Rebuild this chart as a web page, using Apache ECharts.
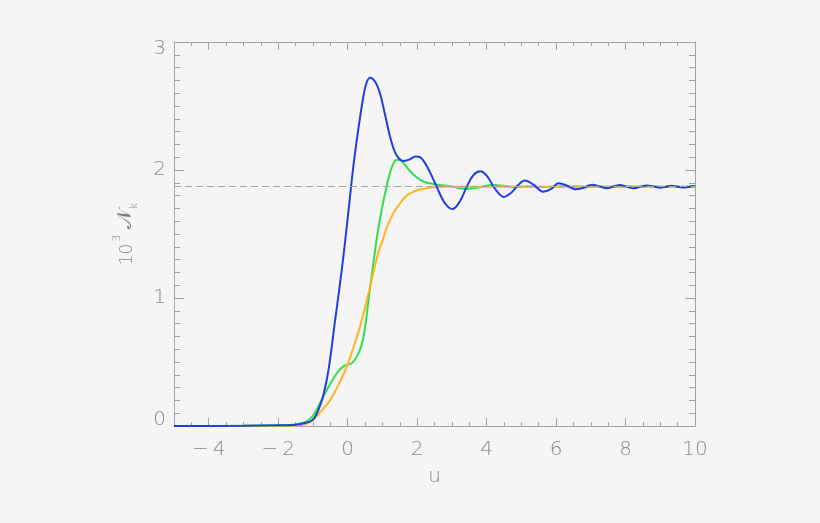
<!DOCTYPE html>
<html><head><meta charset="utf-8">
<script src="https://cdn.jsdelivr.net/npm/echarts@6/dist/echarts.min.js"></script>
<style>html,body{margin:0;padding:0;background:#f5f5f5}#c{width:820px;height:523px}</style>
</head><body><div id="c"></div><script>
// ---- data ----
const xMajorTicks = [-4, -2, 0, 2, 4, 6, 8, 10];
const yMajorTicks = [0, 1, 2, 3];
const refLevel = 1.87;

const blueX = [-5, -3, -2, -1.5, -1.2, -1.0, -0.85, -0.7, -0.55, -0.36, -0.17, 0, 0.07, 0.16, 0.26, 0.356, 0.45, 0.53, 0.64, 0.79, 0.93, 1.07, 1.22, 1.36, 1.48, 1.6, 1.8, 1.95, 2.08, 2.3, 2.56, 2.8, 3.02, 3.22, 3.43, 3.62, 3.82, 4.02, 4.25, 4.5, 4.7, 4.9, 5.1, 5.35, 5.63, 5.85, 6.07, 6.3, 6.55, 6.8, 7.03, 7.25, 7.46, 7.65, 7.84, 8.03, 8.23, 8.42, 8.61, 8.8, 9.0, 9.17, 9.33, 9.5, 9.67, 9.85, 10];
const blueY = [0, 0.002, 0.006, 0.01, 0.025, 0.05, 0.12, 0.24, 0.44, 0.83, 1.22, 1.62, 1.8, 2.02, 2.23, 2.41, 2.57, 2.67, 2.72, 2.69, 2.6, 2.44, 2.26, 2.14, 2.09, 2.07, 2.085, 2.105, 2.1, 2.02, 1.87, 1.74, 1.695, 1.75, 1.87, 1.96, 1.99, 1.95, 1.85, 1.79, 1.82, 1.88, 1.918, 1.885, 1.83, 1.85, 1.896, 1.88, 1.85, 1.862, 1.885, 1.872, 1.857, 1.87, 1.883, 1.87, 1.857, 1.868, 1.879, 1.872, 1.862, 1.87, 1.877, 1.87, 1.863, 1.87, 1.876];

const greenX = [-5, -3, -2, -1.5, -1.2, -1.0, -0.85, -0.7, -0.5, -0.32, -0.15, -0.03, 0.117, 0.26, 0.4, 0.5, 0.59, 0.69, 0.84, 0.98, 1.12, 1.27, 1.41, 1.55, 1.8, 2.0, 2.18, 2.37, 2.56, 2.85, 3.1, 3.43, 3.8, 4.15, 4.5, 4.76, 5.2, 5.6, 6.2, 7, 8, 9, 10];
const greenY = [0, 0.001, 0.004, 0.012, 0.034, 0.08, 0.15, 0.23, 0.33, 0.41, 0.46, 0.477, 0.49, 0.54, 0.63, 0.77, 0.96, 1.17, 1.47, 1.69, 1.87, 2.02, 2.08, 2.07, 1.99, 1.94, 1.91, 1.896, 1.885, 1.878, 1.865, 1.852, 1.865, 1.883, 1.876, 1.865, 1.872, 1.868, 1.872, 1.869, 1.871, 1.87, 1.87];

const orangeX = [-5, -2, -1.5, -1.2, -1.0, -0.75, -0.51, -0.25, -0.03, 0.15, 0.36, 0.55, 0.74, 0.9, 1.03, 1.12, 1.31, 1.51, 1.7, 1.89, 2.1, 2.37, 2.8, 3.5, 5, 7, 10];
const orangeY = [0, 0, 0.003, 0.015, 0.045, 0.12, 0.2, 0.33, 0.46, 0.6, 0.78, 0.98, 1.2, 1.37, 1.47, 1.545, 1.66, 1.74, 1.8, 1.83, 1.85, 1.862, 1.869, 1.87, 1.87, 1.87, 1.87];

// ---- styling ----
const AX = '#a4a4a4';
const LBL = '#8a8a8a';
const FONT = 'DejaVu Sans';
const zip = (xs, ys) => xs.map((x, i) => [x, ys[i]]);

function xAx(pos, interval, tickLen, custom, withLabels, withLine) {
  const a = {
    type: 'value', position: pos, min: -5, max: 10, interval: interval,
    gridIndex: 0,
    axisLine: { show: withLine, onZero: false, lineStyle: { color: AX, width: 1 } },
    axisTick: { show: true, inside: true, length: tickLen, lineStyle: { color: AX, width: 1 } },
    axisLabel: { show: false },
    splitLine: { show: false }
  };
  if (custom) a.axisTick.customValues = custom;
  if (withLabels) {
    a.axisLabel = {
      show: true, customValues: xMajorTicks, margin: 14,
      color: LBL, fontFamily: FONT, fontSize: 20, fontWeight: 300,
      formatter: v => v < 0 ? '\u2212\u2009' + Math.abs(v) : String(v)
    };
  }
  return a;
}
function yAx(pos, interval, tickLen, custom, withLabels, withLine) {
  const a = {
    type: 'value', position: pos, min: 0, max: 3, interval: interval,
    gridIndex: 0,
    axisLine: { show: withLine, onZero: false, lineStyle: { color: AX, width: 1 } },
    axisTick: { show: true, inside: true, length: tickLen, lineStyle: { color: AX, width: 1 } },
    axisLabel: { show: false },
    splitLine: { show: false }
  };
  if (custom) a.axisTick.customValues = custom;
  if (withLabels) {
    a.axisLabel = {
      show: true, customValues: yMajorTicks, margin: 8,
      color: LBL, fontFamily: FONT, fontSize: 20, fontWeight: 300,
      formatter: v => v === 0 ? '{lo|0}' : (v === 3 ? '{hi|3}' : String(v)),
      rich: {
        lo: { color: LBL, fontFamily: FONT, fontSize: 20, fontWeight: 300, padding: [0, 0, 13, 0] },
        hi: { color: LBL, fontFamily: FONT, fontSize: 20, fontWeight: 300, padding: [14, 0, 0, 0] }
      }
    };
  }
  return a;
}

const xAxes = [
  xAx('bottom', 0.5, 4, null, true, true),
  xAx('bottom', 0.5, 8, xMajorTicks, false, false),
  xAx('top', 0.5, 4, null, false, true),
  xAx('top', 0.5, 8, xMajorTicks, false, false)
];
xAxes[0].name = 'u';
xAxes[0].nameLocation = 'middle';
xAxes[0].nameGap = 41;
xAxes[0].nameTextStyle = { color: LBL, fontFamily: FONT, fontSize: 20, fontWeight: 300 };

const yAxes = [
  yAx('left', 0.1, 6, null, true, true),
  yAx('left', 0.1, 10, yMajorTicks, false, false),
  yAx('right', 0.1, 6, null, false, true),
  yAx('right', 0.1, 10, yMajorTicks, false, false)
];
yAxes[0].name = '{a|10}{s|3}{a| }{n|\uD835\uDCA9}{k|k}';
yAxes[0].nameLocation = 'middle';
yAxes[0].nameGap = 38;
yAxes[0].nameTextStyle = {
  color: LBL, fontFamily: FONT, fontSize: 17, fontWeight: 300,
  rich: {
    a: { color: LBL, fontFamily: FONT, fontSize: 17, fontWeight: 300, lineHeight: 24, verticalAlign: 'bottom' },
    s: { color: LBL, fontFamily: FONT, fontSize: 11, fontWeight: 300, lineHeight: 24, verticalAlign: 'top', padding: [0, 0, 0, 2] },
    n: { color: '#7a7a7a', fontFamily: FONT, fontSize: 20, fontWeight: 300, lineHeight: 24, verticalAlign: 'bottom' },
    k: { color: LBL, fontFamily: FONT, fontSize: 11, fontWeight: 300, lineHeight: 24, verticalAlign: 'bottom', padding: [0, 0, -4, 1] }
  }
};

const lineSeries = (name, xs, ys, color) => ({
  name: name, type: 'line', xAxisIndex: 0, yAxisIndex: 0,
  data: zip(xs, ys), showSymbol: false, smooth: 0.35,
  lineStyle: { color: color, width: 2 }, silent: true, z: 3
});

const chart = echarts.init(document.getElementById('c'), null, { renderer: 'canvas' });
const green = lineSeries('green', greenX, greenY, '#2ee04a');
green.markLine = {
  silent: true, symbol: 'none', label: { show: false },
  lineStyle: { color: '#a8a8a8', type: [7, 4], width: 1 },
  data: [{ yAxis: refLevel }]
};
chart.setOption({
  backgroundColor: '#f5f5f5',
  animation: false,
  grid: { left: 174, right: 125, top: 42, bottom: 97, containLabel: false, outerBoundsMode: 'none' },
  xAxis: xAxes,
  yAxis: yAxes,
  series: [
    green,
    lineSeries('orange', orangeX, orangeY, '#ffb424'),
    lineSeries('blue', blueX, blueY, '#1e40e0')
  ]
});
</script></body></html>
